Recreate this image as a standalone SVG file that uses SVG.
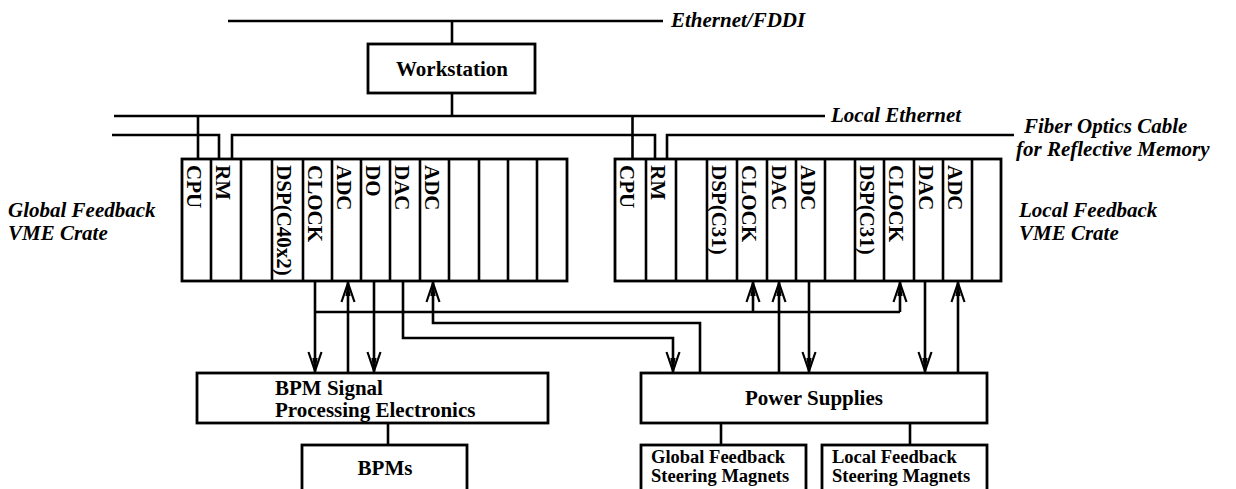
<svg xmlns="http://www.w3.org/2000/svg" width="1236" height="489" viewBox="0 0 1236 489">
<style>
.ln{fill:none;stroke:#000;stroke-width:2.6;stroke-linejoin:miter}
.bx{fill:#fff;stroke:#000;stroke-width:2.8}
.t{font-family:"Liberation Serif","Times New Roman",serif;font-weight:bold;font-size:21px;fill:#000}
.ti{font-family:"Liberation Serif","Times New Roman",serif;font-weight:bold;font-style:italic;font-size:21px;fill:#000}
.ts{font-family:"Liberation Serif","Times New Roman",serif;font-weight:bold;font-size:18.5px;fill:#000}
.ar{marker-end:url(#arr)}
</style>
<defs>
<marker id="arr" viewBox="0 0 22 16" refX="21" refY="8" markerWidth="22" markerHeight="16" markerUnits="userSpaceOnUse" orient="auto">
<path d="M1,1.5 L20,8 L1,14.5" fill="none" stroke="#000" stroke-width="2.2"/>
<path d="M7,5.4 L21,8 L7,10.6 Z" fill="#000"/>
</marker>
</defs>
<rect width="1236" height="489" fill="#fff"/>

<g id="connectors">
<path class="ln" d="M228,21 H663"/>
<path class="ln" d="M452,21 V44"/>
<path class="ln" d="M452,93 V116"/>
<path class="ln" d="M114,116 H825"/>
<path class="ln" d="M198,116 V159"/>
<path class="ln" d="M632.5,116 V159"/>
<path class="ln" d="M112,135 H219 V159"/>
<path class="ln" d="M232,159 V135 H655 V159"/>
<path class="ln" d="M667,159 V135 H1014"/>
<path class="ln ar" d="M315,281 V372"/>
<path class="ln ar" d="M348,373 V282"/>
<path class="ln ar" d="M374,281 V372"/>
<path class="ln ar" d="M403,281 V338 H673 V372"/>
<path class="ln ar" d="M700,373 V323 H433 V282"/>
<path class="ln" d="M315,312 H900"/>
<path class="ln ar" d="M753,312 V282"/>
<path class="ln ar" d="M900,312 V282"/>
<path class="ln ar" d="M779,373 V282"/>
<path class="ln ar" d="M809,281 V372"/>
<path class="ln ar" d="M925,281 V372"/>
<path class="ln ar" d="M958,373 V282"/>
<path class="ln" d="M388,423 V445"/>
<path class="ln" d="M721,423 V445"/>
<path class="ln" d="M910,423 V445"/>
</g>

<g id="network-labels">
<text class="ti" x="671" y="27">Ethernet/FDDI</text>
<text class="ti" x="831" y="122">Local Ethernet</text>
<text class="ti" x="1024" y="133">Fiber Optics Cable</text>
<text class="ti" x="1016" y="156">for Reflective Memory</text>
</g>

<g id="workstation">
<rect class="bx" x="368" y="44" width="167" height="49"/>
<text class="t" x="452" y="76" text-anchor="middle">Workstation</text>
</g>

<g id="global-crate">
<rect class="bx" x="182" y="159" width="385" height="122"/>
<path class="ln" d="M211,159V281M241,159V281M272,159V281M303,159V281M332,159V281M361,159V281M390,159V281M420,159V281M449,159V281M479,159V281M508,159V281M537,159V281"/>
<text class="t" transform="translate(187,165) rotate(90)">CPU</text>
<text class="t" transform="translate(216,165) rotate(90)">RM</text>
<text class="t" transform="translate(277,165) rotate(90)">DSP(C40x2)</text>
<text class="t" transform="translate(308,165) rotate(90)">CLOCK</text>
<text class="t" transform="translate(337,165) rotate(90)">ADC</text>
<text class="t" transform="translate(366,165) rotate(90)">DO</text>
<text class="t" transform="translate(395,165) rotate(90)">DAC</text>
<text class="t" transform="translate(425,165) rotate(90)">ADC</text>
<text class="ti" x="8" y="217">Global Feedback</text>
<text class="ti" x="8" y="240">VME Crate</text>
</g>

<g id="local-crate">
<rect class="bx" x="615" y="159" width="386" height="122"/>
<path class="ln" d="M646,159V281M676,159V281M707,159V281M737,159V281M767,159V281M796,159V281M825,159V281M855,159V281M884,159V281M914,159V281M943,159V281M972,159V281"/>
<text class="t" transform="translate(620,165) rotate(90)">CPU</text>
<text class="t" transform="translate(651,165) rotate(90)">RM</text>
<text class="t" transform="translate(712,165) rotate(90)">DSP(C31)</text>
<text class="t" transform="translate(742,165) rotate(90)">CLOCK</text>
<text class="t" transform="translate(772,165) rotate(90)">DAC</text>
<text class="t" transform="translate(801,165) rotate(90)">ADC</text>
<text class="t" transform="translate(860,165) rotate(90)">DSP(C31)</text>
<text class="t" transform="translate(889,165) rotate(90)">CLOCK</text>
<text class="t" transform="translate(919,165) rotate(90)">DAC</text>
<text class="t" transform="translate(948,165) rotate(90)">ADC</text>
<text class="ti" x="1019" y="217">Local Feedback</text>
<text class="ti" x="1019" y="240">VME Crate</text>
</g>

<g id="bpm-electronics">
<rect class="bx" x="197" y="373" width="351" height="50"/>
<text class="t" x="275" y="395">BPM Signal</text>
<text class="t" x="275" y="417">Processing Electronics</text>
</g>

<g id="bpms">
<rect class="bx" x="302" y="445" width="165" height="55"/>
<text class="t" x="385" y="475" text-anchor="middle">BPMs</text>
</g>

<g id="power-supplies">
<rect class="bx" x="641" y="373" width="346" height="50"/>
<text class="t" x="814" y="405" text-anchor="middle">Power Supplies</text>
</g>

<g id="global-magnets">
<rect class="bx" x="641" y="445" width="165" height="55"/>
<text class="ts" x="651" y="463">Global Feedback</text>
<text class="ts" x="651" y="482">Steering Magnets</text>
</g>

<g id="local-magnets">
<rect class="bx" x="822" y="445" width="165" height="55"/>
<text class="ts" x="832" y="463">Local Feedback</text>
<text class="ts" x="832" y="482">Steering Magnets</text>
</g>
</svg>
